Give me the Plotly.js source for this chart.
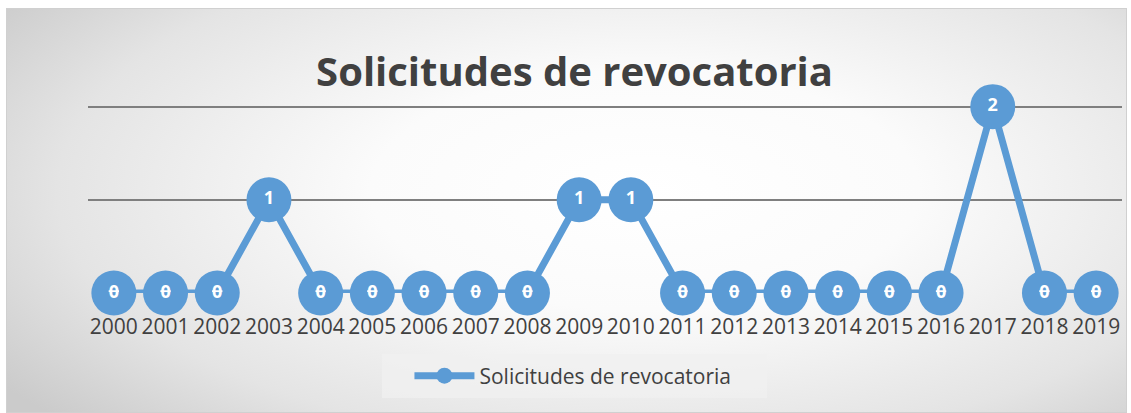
<!DOCTYPE html>
<html>
<head>
<meta charset="utf-8">
<script src="https://cdn.plot.ly/plotly-3.0.1.min.js"></script>
<style>
html,body{margin:0;padding:0;background:#ffffff;}
#wrap{position:absolute;left:6px;top:8px;width:1121px;height:405px;box-sizing:border-box;border:1px solid #d0d0d0;
background:radial-gradient(ellipse 70% 85% at 57% 45%, #ffffff 0%, #fbfbfb 35%, #e4e4e4 75%, #cbcbcb 100%);}
#chart{position:absolute;left:0;top:0;width:1131px;height:413px;}
</style>
</head>
<body>
<div id="wrap"></div>
<div id="chart"></div>
<script>
const years = ["2000","2001","2002","2003","2004","2005","2006","2007","2008","2009","2010","2011","2012","2013","2014","2015","2016","2017","2018","2019"];
const solicitudes = [0,0,0,1,0,0,0,0,0,1,1,0,0,0,0,0,0,2,0,0];
const seriesName = "Solicitudes de revocatoria";
const chartTitle = "Solicitudes de revocatoria";

const labels = solicitudes.map(v => v === 0 ? "<s>0</s>" : String(v));

const trace = {
  x: years,
  y: solicitudes,
  type: "scatter",
  mode: "lines+markers+text",
  name: seriesName,
  text: labels,
  textposition: "middle center",
  textfont: {family: "Open Sans, sans-serif", size: 18, color: "#ffffff", weight: "bold"},
  line: {color: "#5b9bd5", width: 7},
  marker: {color: "#5b9bd5", size: 45},
  cliponaxis: false,
  hoverinfo: "x+y"
};

const layout = {
  width: 1131, height: 413,
  margin: {l: 88, r: 9, t: 88, b: 120},
  paper_bgcolor: "rgba(0,0,0,0)",
  plot_bgcolor: "rgba(0,0,0,0)",
  title: {text: "<b>" + chartTitle + "</b>", font: {family: "Open Sans, sans-serif", size: 40, color: "#404040"}, x: 0.508, xanchor: "center", y: 0.825, yanchor: "middle"},
  xaxis: {
    type: "category", range: [-0.5, 19.5], showgrid: false, zeroline: false, showline: false,
    ticks: "", tickfont: {family: "Open Sans, sans-serif", size: 21, color: "#404040"}, ticklabelstandoff: 19
  },
  yaxis: {
    range: [0, 2.2], tickvals: [1, 2], showticklabels: false, showgrid: true, gridcolor: "#7f7f7f", gridwidth: 2,
    zeroline: false, showline: false, ticks: ""
  },
  showlegend: true,
  legend: {
    orientation: "h", x: 0.469, xanchor: "center", y: -0.405, yanchor: "middle",
    bgcolor: "rgba(0,0,0,0)", font: {family: "Open Sans, sans-serif", size: 21, color: "#404040"},
    itemwidth: 60
  },
  shapes: [{
    type: "rect", xref: "paper", yref: "paper",
    x0: (382 - 88) / 1034, x1: (767 - 88) / 1034,
    y0: (293 - 398) / 205, y1: (293 - 354) / 205,
    fillcolor: "rgba(240,240,240,0.75)", line: {width: 0}, layer: "below"
  }]
};

Plotly.newPlot("chart", [trace], layout, {displayModeBar: false, staticPlot: true});
</script>
</body>
</html>
